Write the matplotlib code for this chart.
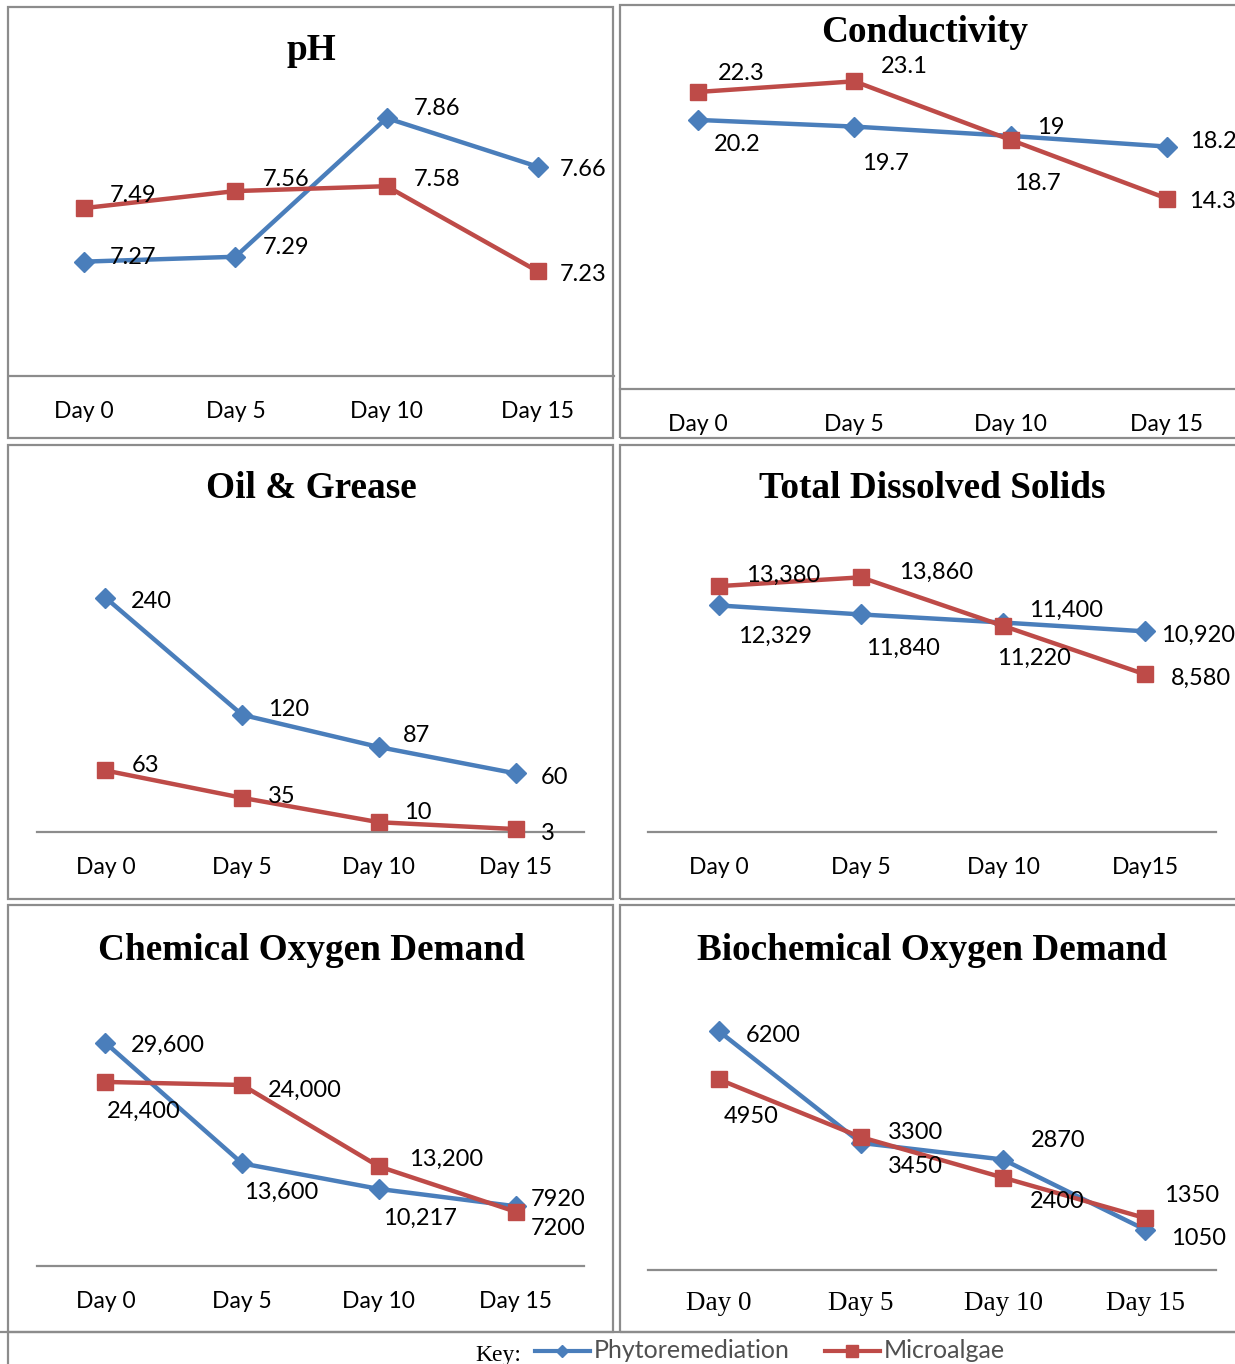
import matplotlib.pyplot as plt
from matplotlib.patches import Rectangle
from matplotlib.lines import Line2D

W, H = 1235, 1364
BLUE = '#4a7ebb'
RED = '#be4b48'
GRAY = '#8c8c8c'
SANS = ['Lato', 'DejaVu Sans']
SERIF = ['Liberation Serif', 'DejaVu Serif']

days = ['Day 0', 'Day 5', 'Day 10', 'Day 15']
days_tds = ['Day 0', 'Day 5', 'Day 10', 'Day15']

ph_phyto = [7.27, 7.29, 7.86, 7.66]
ph_micro = [7.49, 7.56, 7.58, 7.23]
ph_phyto_lbl = ['7.27', '7.29', '7.86', '7.66']
ph_micro_lbl = ['7.49', '7.56', '7.58', '7.23']

cond_phyto = [20.2, 19.7, 19.0, 18.2]
cond_micro = [22.3, 23.1, 18.7, 14.3]
cond_phyto_lbl = ['20.2', '19.7', '19', '18.2']
cond_micro_lbl = ['22.3', '23.1', '18.7', '14.3']

oil_phyto = [240, 120, 87, 60]
oil_micro = [63, 35, 10, 3]
oil_phyto_lbl = ['240', '120', '87', '60']
oil_micro_lbl = ['63', '35', '10', '3']

tds_phyto = [12329, 11840, 11400, 10920]
tds_micro = [13380, 13860, 11220, 8580]
tds_phyto_lbl = ['12,329', '11,840', '11,400', '10,920']
tds_micro_lbl = ['13,380', '13,860', '11,220', '8,580']

cod_phyto = [29600, 13600, 10217, 7920]
cod_micro = [24400, 24000, 13200, 7200]
cod_phyto_lbl = ['29,600', '13,600', '10,217', '7920']
cod_micro_lbl = ['24,400', '24,000', '13,200', '7200']

bod_phyto = [6200, 3300, 2870, 1050]
bod_micro = [4950, 3450, 2400, 1350]
bod_phyto_lbl = ['6200', '3300', '2870', '1050']
bod_micro_lbl = ['4950', '3450', '2400', '1350']

fig = plt.figure(figsize=(W / 100, H / 100), dpi=100)


def frac(x0, y0, x1, y1):
    # pixel box (top-left origin) -> figure fraction rect
    return [x0 / W, 1 - y1 / H, (x1 - x0) / W, (y1 - y0) / H]


def box(x0, y0, x1, y1):
    r = frac(x0, y0, x1, y1)
    fig.patches.append(Rectangle((r[0], r[1]), r[2], r[3], transform=fig.transFigure,
                                 fill=False, edgecolor=GRAY, lw=1.6))


def panel(rect, ylim, title, title_xy, phyto, micro, p_lbl, m_lbl, p_off, m_off,
          ticks=days, tick_font=SANS, tick_size=16.5, tick_pad=18):
    ax = fig.add_axes(frac(*rect))
    x = range(4)
    ax.plot(x, phyto, color=BLUE, lw=3.2, marker='D', ms=10, zorder=3, clip_on=False)
    ax.plot(x, micro, color=RED, lw=3.2, marker='s', ms=12, zorder=4, clip_on=False)
    for vals, lbls, offs in ((phyto, p_lbl, p_off), (micro, m_lbl, m_off)):
        for i, (v, t, o) in enumerate(zip(vals, lbls, offs)):
            ax.annotate(t, xy=(i, v), xytext=(o[0], o[1] - 2), textcoords='offset pixels',
                        ha='left', va='center', fontsize=17, family=SANS, zorder=5)
    ax.set_xlim(-0.5, 3.5)
    ax.set_ylim(*ylim)
    ax.set_xticks(list(x))
    ax.set_xticklabels(ticks, fontsize=tick_size, family=tick_font)
    ax.tick_params(axis='x', length=0, pad=tick_pad)
    ax.set_yticks([])
    for s in ['top', 'left', 'right']:
        ax.spines[s].set_visible(False)
    ax.spines['bottom'].set_color(GRAY)
    ax.spines['bottom'].set_linewidth(1.6)
    ax.patch.set_alpha(0)
    fig.text(title_xy[0] / W, 1 - title_xy[1] / H, title, ha='center', va='center',
             fontsize=26.8, fontweight='bold', family=SERIF)
    return ax


# panel frames
box(8, 7, 613, 438)
box(620, 5, 1245, 438)
box(8, 445, 613, 899)
box(620, 445, 1245, 899)
box(8, 905, 613, 1332)
box(620, 905, 1245, 1332)

panel((8.5, 84, 613.5, 376), (6.8, 8.0), 'pH', (311, 50),
      ph_phyto, ph_micro, ph_phyto_lbl, ph_micro_lbl,
      [(26, 6), (27, 11), (27, 12), (22, -1)],
      [(26, 15), (27, 14), (27, 9), (22, -1)])

panel((620, 56, 1245, 389), (0, 25), 'Conductivity', (925, 33),
      cond_phyto, cond_micro, cond_phyto_lbl, cond_micro_lbl,
      [(16, -23), (8, -35), (26, 10), (23, 7)],
      [(20, 20), (26, 17), (3, -42), (22, -1)])

panel((37, 539, 584, 832), (0, 300), 'Oil & Grease', (311, 489),
      oil_phyto, oil_micro, oil_phyto_lbl, oil_micro_lbl,
      [(26, -2), (26, 7), (24, 14), (25, -2)],
      [(26, 7), (26, 3), (25, 12), (25, -2)])

panel((648, 538, 1216, 832), (0, 16000), 'Total Dissolved Solids', (932, 489),
      tds_phyto, tds_micro, tds_phyto_lbl, tds_micro_lbl,
      [(19, -29), (5, -32), (26, 14), (16, -2)],
      [(27, 13), (38, 7), (-6, -31), (26, -2)], ticks=days_tds)

panel((37, 1002, 584, 1266), (0, 35000), 'Chemical Oxygen Demand', (311, 950),
      cod_phyto, cod_micro, cod_phyto_lbl, cod_micro_lbl,
      [(26, -1), (2, -27), (4, -27), (15, 9)],
      [(2, -27), (26, -3), (30, 9), (15, -15)])

panel((648, 962, 1216, 1270), (0, 8000), 'Biochemical Oxygen Demand', (932, 950),
      bod_phyto, bod_micro, bod_phyto_lbl, bod_micro_lbl,
      [(27, -2), (27, 12), (28, 21), (26, -7)],
      [(5, -35), (27, -27), (27, -22), (19, 25)],
      tick_font=SERIF, tick_size=19.5, tick_pad=15)

# key row
fig.add_artist(Line2D([0, 1], [1 - 1332 / H] * 2, color=GRAY, lw=1.6))
fig.add_artist(Line2D([8 / W] * 2, [0, 1 - 1332 / H], color=GRAY, lw=1.6))
ky = 1 - 1351 / H
fig.text(475 / W, 1 - 1356 / H, 'Key:', ha='left', va='center', fontsize=17, family=SERIF)
fig.add_artist(Line2D([535 / W, 590 / W], [ky, ky], color=BLUE, lw=3))
fig.add_artist(Line2D([562 / W], [ky], color=BLUE, marker='D', ms=6))
fig.text(594 / W, ky, 'Phytoremediation', ha='left', va='center', fontsize=18,
         family=SANS, color='#505050')
fig.add_artist(Line2D([825 / W, 880 / W], [ky, ky], color=RED, lw=3))
fig.add_artist(Line2D([852 / W], [ky], color=RED, marker='s', ms=8))
fig.text(884 / W, ky, 'Microalgae', ha='left', va='center', fontsize=18,
         family=SANS, color='#505050')

fig.savefig('out.png', dpi=100)
